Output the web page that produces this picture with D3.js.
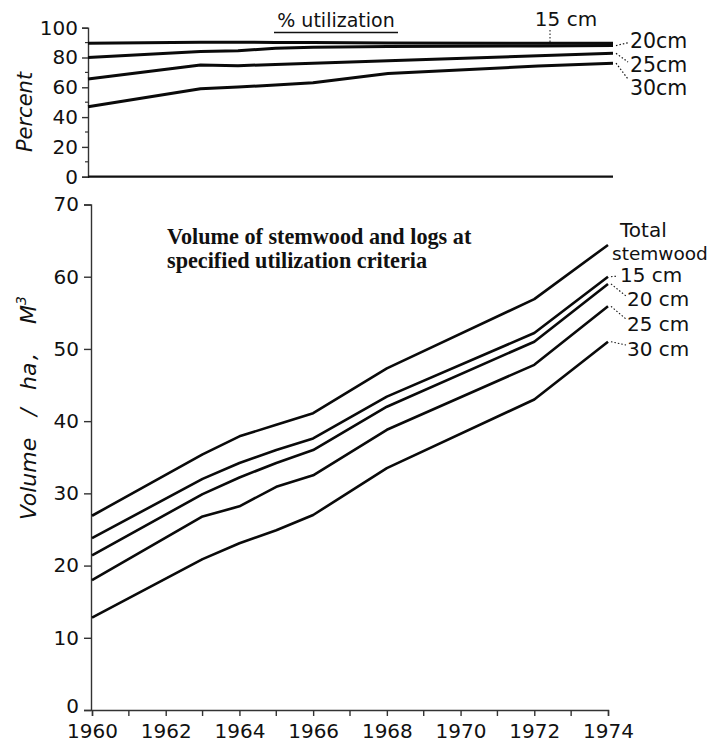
<!DOCTYPE html>
<html>
<head>
<meta charset="utf-8">
<script src="https://cdn.jsdelivr.net/npm/d3@7"></script>
<style>
  html, body { margin: 0; padding: 0; background: #fff; }
  svg { display: block; }
  .sans { font-family: "DejaVu Sans", sans-serif; fill: #111; }
  .serif { font-family: "Liberation Serif", "Times New Roman", serif; font-weight: bold; fill: #111; }
</style>
</head>
<body>
<svg id="chart" width="714" height="744"></svg>
<script>
// Survey years at which the curves change slope
const years = [1960, 1963, 1964, 1965, 1966, 1968, 1972, 1974];

// Upper panel: percentage of stemwood usable at each top diameter
const pct15 = [89.5, 90.3, 90.2, 90.1, 90.0, 89.8, 89.6, 89.6];
const pct20 = [80.0, 84.0, 84.6, 86.2, 86.8, 87.3, 87.8, 88.0];
const pct25 = [65.5, 75.0, 74.5, 75.3, 76.2, 77.8, 81.2, 82.8];
const pct30 = [47.0, 59.0, 60.2, 61.5, 63.0, 69.3, 74.3, 76.2];

// Lower panel: volume per hectare (m3)
const volTotal = [26.9, 35.4, 37.9, 39.5, 41.1, 47.3, 56.9, 64.4];
const vol15    = [23.8, 32.0, 34.2, 36.0, 37.6, 43.4, 52.2, 60.0];
const vol20    = [21.4, 29.9, 32.2, 34.2, 36.0, 42.0, 51.0, 59.0];
const vol25    = [18.0, 26.8, 28.2, 30.9, 32.5, 38.8, 47.8, 55.9];
const vol30    = [12.8, 20.9, 23.1, 24.9, 27.0, 33.5, 43.0, 51.0];

// Axis tick values
const pctTicks = [0, 20, 40, 60, 80, 100];
const pctMinor = [10, 30, 50, 70, 90];
const volTicks = [0, 10, 20, 30, 40, 50, 60, 70];
const yearTicks = [1960, 1962, 1964, 1966, 1968, 1970, 1972, 1974];
const yearMinor = d3.range(1960, 1975);

const svg = d3.select("#chart");

// ---------- scales ----------
const xT = d3.scaleLinear().domain([1960, 1974]).range([88, 613]);
const yT = d3.scaleLinear().domain([0, 100]).range([176.7, 27.7]);
const xB = d3.scaleLinear().domain([1960, 1974]).range([92, 608]);
const yB = d3.scaleLinear().domain([0, 70]).range([710, 204.5]);

const lineT = d3.line().x((d, i) => xT(years[i])).y(d => yT(d));
const lineB = d3.line().x((d, i) => xB(years[i])).y(d => yB(d));

// ---------- upper panel axes ----------
const gTop = svg.append("g");
const yAxisT = d3.axisLeft(yT).tickValues(pctTicks).tickSize(6).tickPadding(4);
const gyT = gTop.append("g").attr("transform", `translate(${xT(1960)},0)`).call(yAxisT);
gyT.select(".domain").attr("stroke", "#333").attr("stroke-width", 1.4);
gyT.selectAll(".tick line").attr("stroke", "#333").attr("stroke-width", 1.4);
gyT.selectAll(".tick text").attr("class", "sans").style("font-size", "20px")
  .attr("font-family", null).attr("fill", "#111");
gyT.selectAll(".minor").data(pctMinor).join("line")
  .attr("x1", -3).attr("x2", 0).attr("y1", d => yT(d)).attr("y2", d => yT(d))
  .attr("stroke", "#333").attr("stroke-width", 1.2);

// zero baseline of the upper panel
gTop.append("line")
  .attr("x1", xT(1960)).attr("x2", xT(1974))
  .attr("y1", yT(0)).attr("y2", yT(0))
  .attr("stroke", "#111").attr("stroke-width", 2.2);

// upper panel curves
[pct15, pct20, pct25, pct30].forEach(s => {
  gTop.append("path").attr("d", lineT(s))
    .attr("fill", "none").attr("stroke", "#0a0a0a")
    .attr("stroke-width", 3).attr("stroke-linejoin", "round");
});

// "Percent" axis title
gTop.append("text").attr("class", "sans")
  .attr("transform", "translate(32,112) rotate(-90)")
  .attr("text-anchor", "middle").style("font-size", "21px").style("font-style", "italic")
  .text("Percent");

// "% utilization" heading with underline
gTop.append("text").attr("class", "sans")
  .attr("x", 336).attr("y", 27).attr("text-anchor", "middle")
  .style("font-size", "19px").text("% utilization");
gTop.append("line").attr("x1", 274).attr("x2", 398).attr("y1", 32.5).attr("y2", 32.5)
  .attr("stroke", "#111").attr("stroke-width", 1.6);

// upper labels
gTop.append("text").attr("class", "sans").attr("x", 566).attr("y", 26)
  .attr("text-anchor", "middle").style("font-size", "20px").text("15 cm");
gTop.append("line").attr("x1", 550).attr("x2", 550).attr("y1", 30).attr("y2", yT(90))
  .attr("stroke", "#111").attr("stroke-width", 1).attr("stroke-dasharray", "1.5,2");

const topLabels = [
  { s: pct20, t: "20cm", ty: 48, lx: 629, ly: 42.5 },
  { s: pct25, t: "25cm", ty: 72, lx: 628, ly: 62 },
  { s: pct30, t: "30cm", ty: 95, lx: 628, ly: 79 }
];
topLabels.forEach(o => {
  const ex = xT(1974), ey = yT(o.s[o.s.length - 1]);
  gTop.append("line").attr("x1", ex + 3).attr("y1", ey).attr("x2", o.lx).attr("y2", o.ly)
    .attr("stroke", "#111").attr("stroke-width", 1.2).attr("stroke-dasharray", "1.5,2");
  gTop.append("text").attr("class", "sans").attr("x", 630).attr("y", o.ty)
    .style("font-size", "20.5px").text(o.t);
});

// ---------- lower panel axes ----------
const gBot = svg.append("g");
const yAxisB = d3.axisLeft(yB).tickValues(volTicks).tickSize(7).tickPadding(5);
const gyB = gBot.append("g").attr("transform", `translate(${xB(1960) - 1},0)`).call(yAxisB);
gyB.select(".domain").attr("stroke", "#333").attr("stroke-width", 1.4);
gyB.selectAll(".tick line").attr("stroke", "#333").attr("stroke-width", 1.4);
gyB.selectAll(".tick text").attr("class", "sans").style("font-size", "20px")
  .attr("font-family", null).attr("fill", "#111");
// the "0" label sits a little high so it clears the first year label
gyB.selectAll(".tick text").filter(d => d === 0).attr("dy", "0.1em");

const xAxisB = d3.axisBottom(xB).tickValues(yearTicks).tickFormat(d3.format("d"))
  .tickSize(6).tickPadding(8);
const gxB = gBot.append("g").attr("transform", `translate(0,${yB(0)})`).call(xAxisB);
gxB.select(".domain").attr("stroke", "#333").attr("stroke-width", 1.4);
gxB.selectAll(".tick line").attr("stroke", "#333").attr("stroke-width", 1.4);
gxB.selectAll(".tick text").attr("class", "sans").style("font-size", "20px")
  .attr("font-family", null).attr("fill", "#111");
gxB.selectAll(".minor").data(yearMinor.filter(y => y % 2 === 1)).join("line")
  .attr("x1", d => xB(d)).attr("x2", d => xB(d)).attr("y1", 0).attr("y2", 6)
  .attr("stroke", "#333").attr("stroke-width", 1.4);

// lower panel curves
[volTotal, vol15, vol20, vol25, vol30].forEach(s => {
  gBot.append("path").attr("d", lineB(s))
    .attr("fill", "none").attr("stroke", "#0a0a0a")
    .attr("stroke-width", 2.6).attr("stroke-linejoin", "round");
});

// "Volume / ha , M3" axis title, words spread along the axis
const yTitle = gBot.append("text").attr("class", "sans")
  .attr("transform", "translate(36,520) rotate(-90)")
  .style("font-size", "22px").style("font-style", "italic");
yTitle.append("tspan").attr("x", 0).text("Volume");
yTitle.append("tspan").attr("x", 104).text("/");
yTitle.append("tspan").attr("x", 130).text("ha");
yTitle.append("tspan").attr("x", 160).text(",");
yTitle.append("tspan").attr("x", 196).text("M");
yTitle.append("tspan").attr("dy", -10).style("font-size", "14px").text("3");

// chart heading
const head = gBot.append("text").attr("class", "serif").style("font-size", "22.2px");
head.append("tspan").attr("x", 167).attr("y", 244).text("Volume of stemwood and logs at");
head.append("tspan").attr("x", 167).attr("y", 268).text("specified utilization criteria");

// lower labels
gBot.append("text").attr("class", "sans").attr("x", 620).attr("y", 237)
  .style("font-size", "20px").text("Total");
gBot.append("text").attr("class", "sans").attr("x", 612).attr("y", 260)
  .style("font-size", "18.5px").text("stemwood");

const botLabels = [
  { s: vol15, t: "15 cm", tx: 620, ty: 282, lx: 618, ly: 276 },
  { s: vol20, t: "20 cm", tx: 627, ty: 306, lx: 626, ly: 296 },
  { s: vol25, t: "25 cm", tx: 627, ty: 331, lx: 626, ly: 319 },
  { s: vol30, t: "30 cm", tx: 627, ty: 356, lx: 626, ly: 345 }
];
botLabels.forEach(o => {
  const ex = xB(1974), ey = yB(o.s[o.s.length - 1]);
  gBot.append("line").attr("x1", ex + 3).attr("y1", ey).attr("x2", o.lx).attr("y2", o.ly)
    .attr("stroke", "#111").attr("stroke-width", 1.1).attr("stroke-dasharray", "1.5,2");
  gBot.append("text").attr("class", "sans").attr("x", o.tx).attr("y", o.ty)
    .style("font-size", "20px").text(o.t);
});
</script>
</body>
</html>
